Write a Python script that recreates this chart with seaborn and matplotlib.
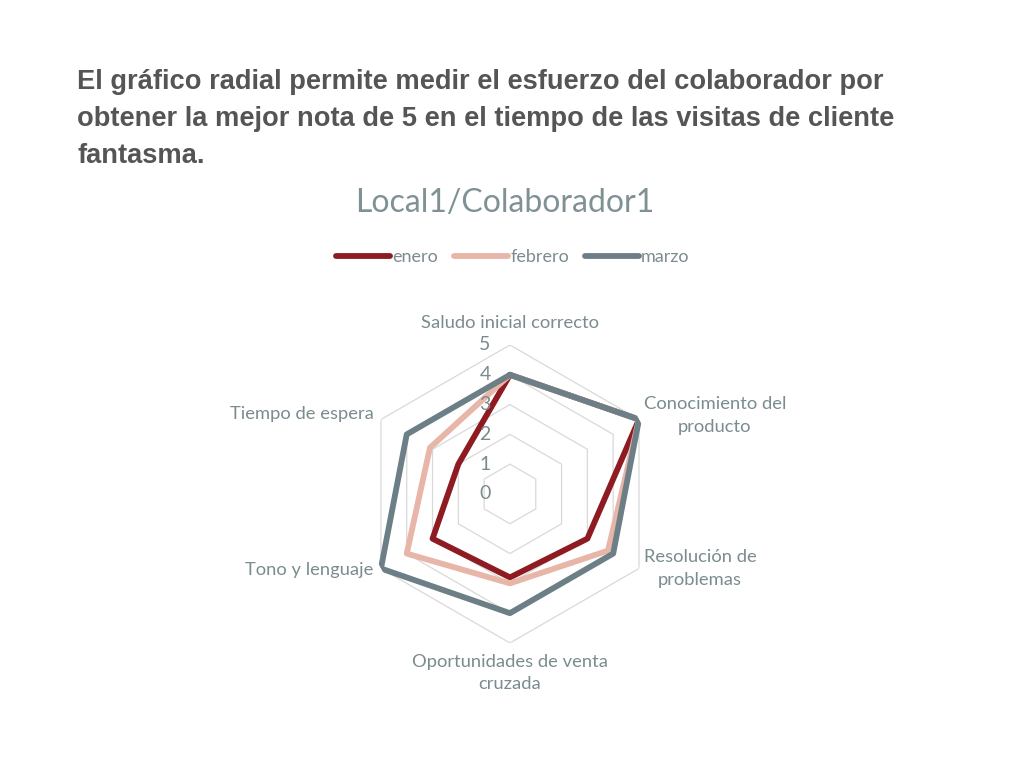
import numpy as np
import pandas as pd
import matplotlib
matplotlib.use("Agg")
import matplotlib.pyplot as plt
import seaborn as sns

categories = ["Saludo inicial correcto", "Conocimiento del\nproducto", "Resolución de\nproblemas",
              "Oportunidades de venta\ncruzada", "Tono y lenguaje", "Tiempo de espera"]
enero = [4, 5, 3, 2.8, 3, 2]
febrero = [4, 5, 3.8, 3, 4, 3.1]
marzo = [4, 5, 4, 4, 5, 4]
series_names = ["enero", "febrero", "marzo"]
colors = ["#8E1B22", "#E8B5A9", "#6D7F86"]
ticks = [0, 1, 2, 3, 4, 5]
header_lines = ["El gráfico radial permite medir el esfuerzo del colaborador por",
                "obtener la mejor nota de 5 en el tiempo de las visitas de cliente",
                "fantasma."]

sns.set_theme(style="white")
plt.rcParams['font.family'] = ['Lato', 'DejaVu Sans']

n = len(categories)
angles = np.arange(n) * 2 * np.pi / n

rows = []
for name, vals in zip(series_names, [enero, febrero, marzo]):
    for k, i in enumerate(list(range(n)) + [0]):
        theta = angles[i] if k < n else 2 * np.pi
        rows.append({"serie": name, "theta": theta, "valor": vals[i]})
df = pd.DataFrame(rows)

fig = plt.figure(figsize=(10.24, 7.68), dpi=100)
ax = fig.add_axes([0.3525, 0.1628, 0.291, 0.388], projection="polar")
ax.set_theta_zero_location("N")
ax.set_theta_direction(-1)

# hexagonal grid
for r in ticks[1:]:
    ax.plot(np.append(angles, angles[0]), [r] * (n + 1), color="#D9D9D9", lw=0.9, zorder=1)

sns.lineplot(data=df, x="theta", y="valor", hue="serie", palette=dict(zip(series_names, colors)),
             sort=False, estimator=None, units="serie", lw=4.2, ax=ax, legend=False, zorder=3)
ax.set_ylim(0, 5)
ax.set_xlabel("")
ax.set_ylabel("")
ax.grid(False)
ax.spines["polar"].set_visible(False)
ax.set_xticks([])
ax.set_yticks([])
ax.patch.set_alpha(0)

label_color = "#7B8C8E"
offsets = [((0, 22), "center"), ((76, 4), "center"), ((61, 0), "center"),
           ((0, -30), "center"), ((-8, -2), "right"), ((-7, 5), "right")]
for ang, lab, (off, ha) in zip(angles, categories, offsets):
    ax.annotate(lab, xy=(ang, 5), xytext=off, textcoords="offset pixels", ha=ha, va="center",
                multialignment="center", fontsize=13.2, color=label_color, linespacing=1.5,
                annotation_clip=False)
for t in ticks:
    ax.annotate(str(t), xy=(0, t), xytext=(-25, 0), textcoords="offset pixels", ha="center",
                va="center", fontsize=14, color=label_color, annotation_clip=False)

for j, line in enumerate(header_lines):
    fig.text(77 / 1024, 1 - (82 + 37 * j) / 768, line, ha="left", va="center",
             fontsize=19.6, fontweight="bold", color="#555555", family="Liberation Sans")
fig.text(0.4932, 1 - 203 / 768, "Local1/Colaborador1", ha="center", va="center",
         fontsize=23, color="#7F9194")

handles = [plt.Line2D([], [], color=c, lw=4.2, solid_capstyle="round") for c in colors]
leg = fig.legend(handles, series_names, loc="center", bbox_to_anchor=(0.501, 1 - 257 / 768),
                 ncol=3, frameon=False, fontsize=13, handlelength=3.0, handletextpad=0.1,
                 columnspacing=0.9)
for t in leg.get_texts():
    t.set_color(label_color)

fig.savefig("out.png", dpi=100, facecolor="white")
